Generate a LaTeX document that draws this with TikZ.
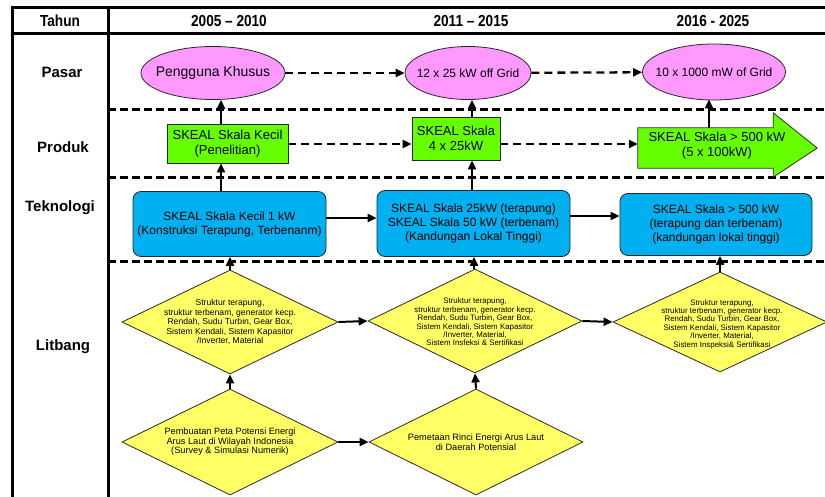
\documentclass[tikz,border=0pt]{standalone}
\usepackage{fontspec}
\setmainfont{Liberation Sans}
\usetikzlibrary{arrows.meta,shapes.geometric,calc}
\definecolor{pasarpink}{RGB}{255,153,255}
\definecolor{produkgreen}{RGB}{102,255,0}
\definecolor{tekblue}{RGB}{0,176,240}
\definecolor{lityellow}{RGB}{255,255,102}
\definecolor{edgegray}{RGB}{40,40,40}
\newcommand{\narrowtext}[1]{\scalebox{0.85}[1]{#1}}
\newcommand{\zerowidth}[1]{\makebox[0pt]{#1}}
\begin{document}
\begin{tikzpicture}[x=1pt,y=-1pt,
  frame/.style={line width=3pt},
  sepline/.style={line width=3pt,dash pattern=on 8pt off 4pt},
  arr/.style={line width=2pt,-{Triangle[length=9pt,width=8pt]}},
  darr/.style={arr,line width=2.3pt,dash pattern=on 8pt off 5pt},
  headtext/.style={font=\fontsize{16}{18}\selectfont\bfseries},
  rowtext/.style={font=\fontsize{15}{18}\selectfont\bfseries},
  pasarnode/.style={ellipse,draw=edgegray,line width=0.8pt,fill=pasarpink,inner sep=0pt,minimum height=53pt},
  produknode/.style={rectangle,draw=edgegray,line width=0.8pt,fill=produkgreen,inner sep=0pt,align=center,font=\fontsize{13}{15}\selectfont},
  teknode/.style={rectangle,rounded corners=8pt,draw=edgegray,line width=0.8pt,fill=tekblue,inner sep=0pt,align=center,font=\fontsize{12}{14}\selectfont},
  litnode/.style={diamond,draw=edgegray,line width=0.8pt,fill=lityellow,inner sep=0pt},
  littext/.style={align=center,inner sep=0pt},
]
\useasboundingbox (0,0) rectangle (825,497);
\fill[white] (0,0) rectangle (825,497);

% frame
\draw[frame] (12,497) -- (12,8) -- (825,8);
\draw[frame] (12,34) -- (825,34);
\draw[frame] (108,8) -- (108,497);

% separators
\draw[sepline] (108,110) -- (825,110);
\draw[sepline] (108,178) -- (825,178);
\draw[sepline] (108,262) -- (825,262);

% header
\node[headtext] (tahun) at (60,21) {\narrowtext{Tahun}};
\node[headtext] (y1) at (229,21) {\narrowtext{2005 – 2010}};
\node[headtext] (y2) at (471,21) {\narrowtext{2011 – 2015}};
\node[headtext] (y3) at (713,21) {\narrowtext{2016 - 2025}};

% row labels
\node[rowtext] (rpasar) at (62,72) {Pasar};
\node[rowtext] (rproduk) at (63,147) {Produk};
\node[rowtext] (rtek) at (60,208) {Teknologi};
\node[rowtext] (rlit) at (63,347) {Litbang};

% Pasar
\node[pasarnode,minimum width=144pt,font=\fontsize{14}{16}\selectfont] (e1) at (213,73) {\zerowidth{Pengguna Khusus}};
\node[pasarnode,minimum width=126pt,font=\fontsize{12}{14}\selectfont] (e2) at (468,73) {\zerowidth{12 x 25 kW off Grid}};
\node[pasarnode,minimum width=143pt,minimum height=56pt,font=\fontsize{12}{14}\selectfont] (e3) at (714,72) {\zerowidth{10 x 1000 mW of Grid}};

% Produk
\node[produknode,minimum width=121pt,minimum height=39pt] (g1) at (227.5,143.5) {SKEAL Skala Kecil\\(Penelitian)};
\node[produknode,minimum width=88pt,minimum height=43pt] (g2) at (456,138.5) {SKEAL Skala\\4 x 25kW};
\node[inner sep=0pt,minimum width=135pt,minimum height=40pt] (g3) at (705.5,148) {};
\fill[produkgreen,draw=edgegray,line width=0.8pt]
  (g3.north west) -- (g3.north east) -- ++(0,-15) -- ($(g3.east)+(44,0)$)
  -- ($(g3.south east)+(0,9)$) -- (g3.south east) -- (g3.south west) -- cycle;
\node[align=center,inner sep=0pt,font=\fontsize{13}{15}\selectfont] (g3text) at (717,146) {SKEAL Skala > 500 kW\\(5 x 100kW)};

% Teknologi
\node[teknode,minimum width=193pt,minimum height=65pt] (b1) at (229.5,224) {SKEAL Skala Kecil 1 kW\\(Konstruksi Terapung, Terbenanm)};
\node[teknode,minimum width=193pt,minimum height=66pt] (b2) at (473.5,223.5) {SKEAL Skala 25kW (terapung)\\SKEAL Skala 50 kW (terbenam)\\(Kandungan Lokal Tinggi)};
\node[teknode,minimum width=192pt,minimum height=62pt] (b3) at (716,224.5) {SKEAL Skala > 500 kW\\(terapung dan terbenam)\\(kandungan lokal tinggi)};

% Litbang
\node[litnode,minimum width=216pt,minimum height=104pt] (d1) at (230,322) {};
\node[littext,font=\fontsize{8.6}{9.5}\selectfont] (t1) at (230,322) {Struktur terapung,\\struktur terbenam, generator kecp.\\Rendah, Sudu Turbin, Gear Box,\\Sistem Kendali, Sistem Kapasitor\\/Inverter, Material};
\node[litnode,minimum width=214pt,minimum height=104pt] (d2) at (475,321) {};
\node[littext,font=\fontsize{7.9}{8.4}\selectfont] (t2) at (475,322) {Struktur terapung,\\struktur terbenam, generator kecp.\\Rendah, Sudu Turbin, Gear Box,\\Sistem Kendali, Sistem Kapasitor\\/Inverter, Material,\\Sistem Insfeksi \& Sertifikasi};
\node[litnode,minimum width=214pt,minimum height=100pt] (d3) at (720,322) {};
\node[littext,font=\fontsize{7.9}{8.4}\selectfont] (t3) at (722,324) {Struktur terapung,\\struktur terbenam, generator kecp.\\Rendah, Sudu Turbin, Gear Box,\\Sistem Kendali, Sistem Kapasitor\\/Inverter, Material,\\Sistem Inspeksi\& Sertifikasi};
\node[litnode,minimum width=216pt,minimum height=106pt] (d4) at (230,442) {};
\node[littext,font=\fontsize{9.2}{9.6}\selectfont] (t4) at (230,442) {Pembuatan Peta Potensi Energi\\Arus Laut di Wilayah Indonesia\\(Survey \& Simulasi Numerik)};
\node[litnode,minimum width=214pt,minimum height=106pt] (d5) at (476,442) {};
\node[littext,font=\fontsize{9.2}{9.6}\selectfont] (t5) at (476,442) {Pemetaan Rinci Energi Arus Laut\\di Daerah Potensial};

% column x positions
\coordinate (cA) at (221,0);
\coordinate (cB) at (472,0);
\coordinate (cC) at (709,0);
\coordinate (dA) at (230,0);
\coordinate (dB) at (474,0);
\coordinate (dC) at (720,0);

% horizontal connectors
\draw[darr] (e1) -- (e2);
\draw[darr] (e2) -- (e3);
\draw[darr] (g1.east |- 0,144) -- (g2.west |- 0,144);
\draw[darr] (g2.east |- 0,144) -- (g3.west |- 0,144);
\draw[arr] (b1.east |- 0,218) -- (b2.west |- 0,218);
\draw[arr] (b2.east |- 0,216) -- (b3.west |- 0,216);
\draw[arr] (d1.east) -- (d2.west);
\draw[arr] (d2.east) -- (d3.west);
\draw[arr] (d4.east) -- (d5.west);

% vertical connectors
\draw[arr] (g1.north -| cA) -- (e1.south -| cA);
\draw[arr] (b1.north -| cA) -- (g1.south -| cA);
\draw[arr] (g2.north -| cB) -- (e2.south -| cB);
\draw[arr] (b2.north -| cB) -- (g2.south -| cB);
\draw[arr] (g3.north -| cC) -- ($(e3.south -| cC)+(0,-1)$);
\draw[arr] (d1.north) -- (b1.south -| dA);
\draw[arr] (d2.north -| dB) -- (b2.south -| dB);
\draw[arr] (d3.north -| dC) -- (b3.south -| dC);
\draw[arr] (d4.north) -- (d1.south);
\draw[arr] (d5.north) -- (d2.south);
\end{tikzpicture}
\end{document}
